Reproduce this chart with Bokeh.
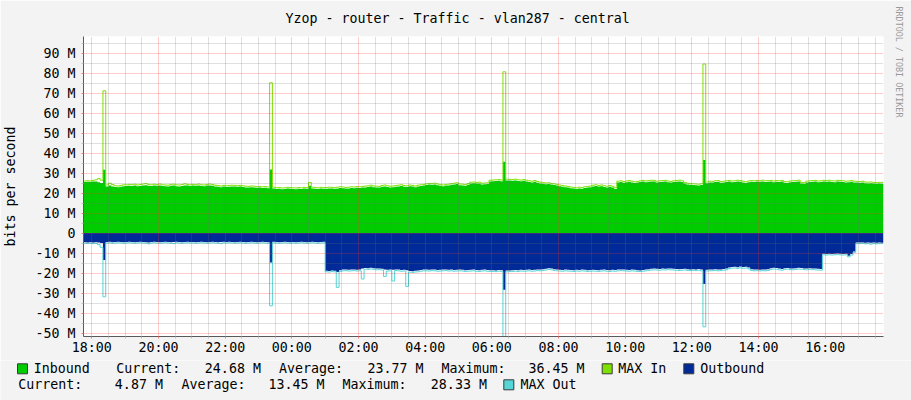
import numpy as np
from bokeh.plotting import figure
from bokeh.models import Range1d, FixedTicker, Title
from bokeh.core.properties import value
from bokeh.embed import file_html
from bokeh.resources import INLINE

# ---------------- data ----------------
TITLE = "Yzop - router - Traffic - vlan287 - central"
Y_LABEL = "bits per second"
WATERMARK = "RRDTOOL / TOBI OETIKER"

START_HOUR = -0.25          # 17:45, in hours relative to 18:00
STEP_HOURS = 5 / 60         # 5-minute samples

X_TICK_LABELS = ["18:00", "20:00", "22:00", "00:00", "02:00", "04:00",
                 "06:00", "08:00", "10:00", "12:00", "14:00", "16:00"]
Y_TICK_VALUES = [-50, -40, -30, -20, -10, 0, 10, 20, 30, 40, 50, 60, 70, 80, 90]
Y_UNIT = "M"

# Inbound average (Mbit/s), one value per 5 minutes from 17:45
IN_AVG = [
    25.5, 25.6, 25.5,
    25.7, 25.8, 25.4, 25.0, 31.6, 23.2, 23.8, 23.3, 23.0, 22.9, 23.1, 23.4,
    23.5, 23.6, 23.5, 23.7, 23.4, 23.5, 23.8, 23.9, 23.6, 23.5, 23.7, 23.6,
    23.8, 23.5, 23.4, 23.2, 23.6, 23.7, 23.4, 23.3, 23.5, 23.8, 23.7, 23.5,
    23.7, 23.6, 23.8, 23.5, 23.4, 23.7, 23.8, 23.6, 23.3, 23.1, 22.9, 23.2,
    23.0, 23.1, 23.3, 23.2, 23.1, 23.2, 23.0, 22.8, 22.7, 22.9, 22.8, 22.6,
    22.7, 22.5, 22.6, 22.4, 31.7, 22.2, 22.0, 22.1, 21.9, 22.0, 22.2, 22.1,
    22.0, 21.9, 22.1, 22.0, 22.2, 22.1, 23.6, 22.3, 22.1, 22.0, 22.2, 22.1,
    22.1, 22.3, 22.2, 22.1, 22.3, 22.5, 22.4, 22.2, 22.3, 22.5, 22.4, 22.6,
    22.5, 22.7, 22.8, 23.0, 23.2, 22.9, 22.8, 22.7, 23.1, 23.3, 23.0, 22.8,
    22.9, 23.1, 23.3, 23.5, 23.1, 23.0, 23.4, 23.2, 22.9, 23.3, 23.5, 23.7,
    24.0, 24.2, 24.1, 24.3, 23.9, 23.6, 23.4, 23.7, 23.8, 24.1, 24.3, 24.5,
    23.9, 23.8, 23.6, 24.1, 24.8, 24.9, 24.7, 24.8, 24.3, 24.4, 24.5, 25.8,
    25.9, 26.0, 26.1, 25.9, 35.6, 26.3, 26.2, 26.1, 26.3, 26.0, 25.9, 26.1,
    25.8, 25.5, 25.3, 25.6, 25.1, 24.8, 24.6, 24.4, 24.5, 24.2, 24.0, 23.7,
    23.4, 23.1, 22.9, 22.7, 22.4, 22.2, 22.0, 22.3, 22.1, 22.5, 22.7, 22.9,
    23.3, 23.5, 23.2, 23.4, 23.0, 22.8, 23.1, 22.8, 22.0, 25.3, 25.5, 25.1,
    25.4, 25.6, 25.3, 25.0, 25.2, 25.5, 25.7, 25.4, 25.6, 25.8, 25.7, 25.3,
    25.5, 25.6, 25.7, 25.4, 25.2, 25.5, 25.6, 25.8, 25.5, 24.7, 24.3, 24.1,
    24.0, 23.9, 23.8, 24.0, 36.45, 24.9, 25.3, 25.2, 25.5, 25.6, 25.1, 25.3,
    25.5, 25.7, 25.4, 25.5, 25.8, 25.6, 25.3, 25.0, 25.4, 25.6, 25.5, 25.7,
    25.6, 25.8, 25.5, 25.6, 25.7, 25.4, 25.6, 25.5, 25.7, 25.1, 25.0, 25.4,
    25.5, 25.6, 25.8, 24.7, 24.6, 25.3, 25.5, 25.6, 25.7, 25.4, 25.5, 25.7,
    25.6, 25.8, 25.5, 25.4, 25.7, 25.6, 25.5, 25.3, 25.4, 25.6, 25.3, 25.2,
    25.1, 25.3, 24.9, 24.8, 24.9, 24.7, 24.6, 24.7, 24.68,
]

IN_MAX = [
    26.0, 26.1, 26.0,
    26.3, 26.6, 27.2, 26.4, 71.1, 24.0, 24.9, 24.2, 23.6, 23.5, 23.8, 24.1,
    24.1, 24.3, 24.2, 24.4, 24.0, 24.2, 24.5, 24.7, 24.3, 24.1, 24.4, 24.2,
    24.5, 24.1, 24.0, 23.9, 24.3, 24.4, 24.1, 24.0, 24.2, 24.6, 24.3, 24.1,
    24.3, 24.2, 24.5, 24.1, 24.0, 24.3, 24.5, 24.2, 23.9, 23.7, 23.5, 23.8,
    23.6, 23.7, 23.9, 23.8, 23.7, 23.8, 23.6, 23.4, 23.3, 23.5, 23.4, 23.2,
    23.3, 23.1, 23.2, 23.0, 75.1, 22.9, 22.6, 22.7, 22.5, 22.6, 22.8, 22.7,
    22.6, 22.5, 22.7, 22.6, 22.8, 22.7, 25.3, 22.9, 22.7, 22.6, 22.8, 22.7,
    22.7, 22.9, 22.8, 22.7, 22.9, 23.1, 23.0, 22.8, 22.9, 23.1, 23.0, 23.2,
    23.1, 23.3, 23.4, 23.6, 23.9, 23.5, 23.4, 23.3, 23.8, 24.0, 23.6, 23.4,
    23.5, 23.7, 23.9, 24.1, 23.7, 23.6, 24.0, 23.8, 23.5, 23.9, 24.1, 24.3,
    24.6, 24.8, 24.7, 24.9, 24.5, 24.2, 24.0, 24.3, 24.4, 24.7, 24.9, 25.1,
    24.5, 24.4, 24.2, 24.7, 25.4, 25.5, 25.3, 25.4, 24.9, 25.0, 25.1, 26.4,
    26.5, 26.6, 26.7, 26.5, 80.6, 26.9, 26.8, 26.7, 26.9, 26.6, 26.5, 26.7,
    26.4, 26.1, 25.9, 26.2, 25.7, 25.4, 25.2, 25.0, 25.1, 24.8, 24.6, 24.3,
    24.0, 23.7, 23.5, 23.3, 23.0, 22.8, 22.6, 22.9, 22.7, 23.1, 23.3, 23.5,
    23.9, 24.1, 23.8, 24.0, 23.6, 23.4, 23.7, 23.4, 22.6, 25.9, 26.1, 25.7,
    26.0, 26.2, 25.9, 25.6, 25.8, 26.1, 26.3, 26.0, 26.2, 26.4, 26.3, 25.9,
    26.1, 26.2, 26.3, 26.0, 25.8, 26.1, 26.2, 26.4, 26.1, 25.3, 24.9, 24.7,
    24.6, 24.5, 24.4, 24.6, 84.5, 25.5, 25.9, 25.8, 26.1, 26.2, 25.7, 25.9,
    26.1, 26.3, 26.0, 26.1, 26.4, 26.2, 25.9, 25.6, 26.0, 26.2, 26.1, 26.3,
    26.2, 26.4, 26.1, 26.2, 26.3, 26.0, 26.2, 26.1, 26.3, 25.7, 25.6, 26.0,
    26.1, 26.2, 26.4, 25.3, 25.2, 25.9, 26.1, 26.2, 26.3, 26.0, 26.1, 26.3,
    26.2, 26.4, 26.1, 26.0, 26.3, 26.2, 26.1, 25.9, 26.0, 26.2, 25.9, 25.8,
    25.7, 25.9, 25.5, 25.4, 25.5, 25.3, 25.2, 25.3, 25.3,
]

# Outbound (Mbit/s, drawn below zero)
OUT_AVG = [
    4.6, 4.7, 4.6,
    4.7, 4.6, 4.7, 5.0, 13.5, 4.5, 4.4, 4.6, 4.5, 4.4, 4.5, 4.6,
    4.5, 4.4, 4.5, 4.6, 4.5, 4.4, 4.5, 4.6, 4.7, 4.5, 4.4, 4.5,
    4.6, 4.5, 4.4, 4.5, 4.6, 4.5, 4.4, 4.5, 4.6, 4.5, 4.4, 4.5,
    4.5, 4.6, 4.5, 4.4, 4.5, 4.6, 4.5, 4.4, 4.5, 4.6, 4.5, 4.4,
    4.5, 4.4, 4.5, 4.6, 4.5, 4.4, 4.5, 4.6, 4.5, 4.4, 4.5, 4.6,
    4.5, 4.4, 4.5, 4.6, 14.7, 4.4, 4.5, 4.6, 4.5, 4.4, 4.5, 4.6,
    4.5, 4.6, 4.5, 4.4, 4.5, 4.6, 4.5, 4.4, 4.5, 4.6, 4.5, 4.4,
    18.9, 19.0, 18.8, 18.9, 19.5, 18.6, 18.3, 18.2, 18.4, 18.3, 18.2, 18.4,
    18.3, 17.7, 17.5, 17.6, 17.4, 17.6, 17.8, 17.7, 17.9, 18.2, 18.4, 18.3,
    18.4, 18.2, 18.3, 18.5, 18.4, 18.6, 19.0, 19.1, 18.9, 18.8, 18.5, 18.3,
    18.3, 18.4, 18.2, 18.3, 18.5, 18.4, 18.3, 18.2, 18.4, 18.3, 18.5, 18.4,
    18.3, 18.4, 18.6, 18.5, 18.4, 18.3, 18.5, 18.6, 18.4, 18.3, 18.5, 18.6,
    18.6, 18.7, 18.5, 18.6, 28.33, 18.8, 18.7, 18.6, 18.5, 18.6, 18.4, 18.5,
    18.4, 18.3, 18.5, 18.4, 18.2, 18.3, 18.1, 17.9, 17.6, 17.8, 18.1, 18.3,
    18.4, 18.5, 18.3, 18.4, 18.5, 18.6, 18.4, 18.5, 18.3, 18.4, 18.6, 18.5,
    18.4, 18.5, 18.6, 18.4, 18.3, 18.5, 18.6, 18.4, 18.5, 18.3, 18.2, 18.3,
    18.4, 18.5, 18.3, 18.4, 18.6, 18.7, 18.5, 18.3, 18.1, 17.9, 17.8, 17.9,
    18.0, 17.8, 17.9, 17.7, 17.8, 17.9, 18.0, 18.1, 18.0, 17.9, 18.1, 18.2,
    18.1, 18.2, 18.0, 18.3, 25.5, 18.4, 18.3, 18.2, 18.1, 18.3, 18.2, 18.0,
    17.8, 17.2, 17.0, 16.9, 17.1, 16.8, 17.0, 16.9, 17.3, 18.1, 18.3, 18.2,
    18.4, 18.2, 18.3, 18.1, 17.6, 17.4, 17.5, 17.8, 18.0, 17.6, 17.5, 17.7,
    17.8, 17.6, 17.4, 17.5, 17.7, 17.8, 17.6, 17.7, 17.8, 17.9, 18.0, 10.4,
    10.5, 10.4, 10.5, 10.4, 10.3, 10.4, 10.5, 10.4, 11.4, 10.5, 9.2, 4.8,
    4.8, 4.7, 4.9, 4.8, 4.9, 4.8, 4.9, 4.8, 4.87,
]

OUT_MAX = [
    5.1, 5.2, 5.1,
    5.3, 5.2, 5.8, 7.2, 31.9, 5.0, 4.9, 5.1, 5.0, 4.9, 5.0, 5.1,
    5.0, 4.9, 5.0, 5.1, 5.0, 4.9, 5.0, 5.1, 5.4, 5.0, 4.9, 5.0,
    5.1, 5.0, 4.9, 5.0, 5.1, 5.3, 4.9, 5.0, 5.1, 5.0, 4.9, 5.0,
    5.0, 5.1, 5.0, 4.9, 5.0, 5.1, 5.0, 4.9, 5.0, 5.1, 5.3, 4.9,
    5.0, 4.9, 5.0, 5.1, 5.0, 4.9, 5.0, 5.1, 5.0, 4.9, 5.0, 5.1,
    5.0, 4.9, 5.0, 5.2, 36.4, 4.9, 5.0, 5.1, 5.0, 4.9, 5.0, 5.1,
    5.0, 5.1, 5.0, 4.9, 5.0, 5.1, 5.0, 4.9, 5.0, 5.1, 5.0, 4.9,
    19.4, 19.5, 19.3, 19.4, 27.2, 19.2, 18.9, 18.8, 19.0, 18.9, 18.8, 19.0,
    18.9, 23.0, 18.1, 18.2, 18.0, 18.2, 18.4, 18.3, 18.5, 21.7, 19.0, 18.9,
    24.0, 18.8, 18.9, 19.1, 19.0, 26.7, 19.6, 19.7, 19.5, 19.4, 19.1, 18.9,
    18.9, 19.0, 18.8, 18.9, 19.1, 19.0, 18.9, 18.8, 19.0, 18.9, 19.1, 19.0,
    18.9, 19.0, 19.2, 19.1, 19.0, 18.9, 19.1, 19.2, 19.0, 18.9, 19.1, 19.2,
    19.2, 19.3, 19.1, 19.2, 58.0, 19.4, 19.3, 19.2, 19.1, 19.2, 19.0, 19.1,
    19.0, 18.9, 19.1, 19.0, 18.8, 18.9, 18.7, 18.5, 18.2, 18.4, 18.7, 18.9,
    19.0, 19.1, 18.9, 19.0, 19.1, 19.2, 19.0, 19.1, 18.9, 19.0, 19.2, 19.1,
    19.0, 19.1, 19.2, 19.0, 18.9, 19.1, 19.2, 19.0, 19.1, 18.9, 18.8, 18.9,
    19.0, 19.1, 18.9, 19.0, 19.2, 19.3, 19.1, 18.9, 18.7, 18.5, 18.4, 18.5,
    18.6, 18.4, 18.5, 18.3, 18.4, 18.5, 18.6, 18.7, 18.6, 18.5, 18.7, 18.8,
    18.7, 18.8, 18.6, 18.9, 46.9, 19.0, 18.9, 18.8, 18.7, 18.9, 18.8, 18.6,
    18.4, 17.8, 17.6, 17.5, 17.7, 17.4, 17.6, 17.5, 17.9, 18.7, 18.9, 18.8,
    19.0, 18.8, 18.9, 18.7, 18.2, 18.0, 18.1, 18.4, 18.6, 18.2, 18.1, 18.3,
    18.4, 18.2, 18.0, 18.1, 18.3, 18.4, 18.2, 18.3, 18.4, 18.5, 18.6, 10.9,
    11.0, 10.9, 11.0, 10.9, 10.8, 10.9, 11.0, 10.9, 11.9, 11.0, 9.7, 5.3,
    5.3, 5.2, 5.4, 5.3, 5.6, 5.3, 5.4, 5.3, 5.3,
]

LEGEND_NAMES = ["Inbound", "MAX In", "Outbound", "MAX Out"]
STAT_NAMES = ["Current:", "Average:", "Maximum:"]
IN_STATS = [24.68, 23.77, 36.45]
OUT_STATS = [4.87, 13.45, 28.33]

# ---------------- style ----------------
C_IN = "#00CC00"
C_IN_MAX = "#7EE000"
C_OUT = "#002A97"
C_OUT_MAX = "#55D5D5"
C_BACK = "#F3F3F3"
C_AXIS = "#5A5A5A"
C_MGRID = "#FF3030"
C_GRID = "#707070"
FONT = "DejaVu Sans Mono"
FS = "13.3px"

MAIN_H = 360
p = figure(width=911, height=MAIN_H, frame_width=800, frame_height=300,
           min_border_left=81, min_border_right=30,
           min_border_top=36, min_border_bottom=MAIN_H - 336,
           x_range=Range1d(START_HOUR, START_HOUR + STEP_HOURS * len(IN_AVG)),
           y_range=Range1d(-51.75, 98.25),
           output_backend="svg", toolbar_location=None,
           background_fill_color="white", border_fill_color=C_BACK)
p.outline_line_color = None

# ---------------- data glyphs (stepped like rrdtool) ----------------
n = len(IN_AVG)
edges = START_HOUR + STEP_HOURS * np.arange(n + 1)
xs = np.repeat(edges, 2)[1:-1]


def stepped(v, sign=1.0):
    return sign * np.repeat(np.asarray(v, dtype=float), 2)


p.varea(x=xs, y1=np.zeros_like(xs), y2=stepped(IN_AVG), fill_color=C_IN)
p.line(x=xs, y=stepped(IN_MAX), line_color=C_IN_MAX, line_width=1)
p.varea(x=xs, y1=np.zeros_like(xs), y2=stepped(OUT_AVG, -1.0), fill_color=C_OUT)
p.line(x=xs, y=stepped(OUT_MAX, -1.0), line_color=C_OUT_MAX, line_width=1)

# ---------------- axes & grid ----------------
x_major = [2 * k for k in range(len(X_TICK_LABELS))]
x_minor = [k * 0.5 for k in range(1, 48) if k % 4 != 0]
xticker = FixedTicker(ticks=x_major, minor_ticks=x_minor)
y_minor = [v + 5 for v in Y_TICK_VALUES]
yticker = FixedTicker(ticks=Y_TICK_VALUES, minor_ticks=y_minor)

p.xaxis.ticker = xticker
p.yaxis.ticker = yticker
p.xgrid.ticker = xticker
p.ygrid.ticker = yticker
p.xaxis.major_label_overrides = {t: lab for t, lab in zip(x_major, X_TICK_LABELS)}
p.yaxis.major_label_overrides = {v: (f"{v} {Y_UNIT}" if v != 0 else "0") for v in Y_TICK_VALUES}

for ax in (p.xaxis[0], p.yaxis[0]):
    ax.axis_line_color = C_AXIS
    ax.axis_line_width = 1
    ax.major_tick_in = 0
    ax.major_tick_out = 2
    ax.minor_tick_in = 0
    ax.minor_tick_out = 2
    ax.major_tick_line_color = "#F08080"
    ax.minor_tick_line_color = "#C0C0C0"
    ax.major_label_text_font = FONT
    ax.major_label_text_font_size = FS
    ax.major_label_text_color = "black"
p.yaxis.major_label_standoff = 6
p.xaxis.major_label_standoff = 1

p.yaxis.axis_label = Y_LABEL
p.yaxis.axis_label_standoff = 14
p.yaxis.axis_label_text_font = FONT
p.yaxis.axis_label_text_font_size = FS
p.yaxis.axis_label_text_font_style = "normal"
p.yaxis.axis_label_text_color = "black"

for g in (p.xgrid[0], p.ygrid[0]):
    g.level = "guide"
    g.grid_line_color = C_MGRID
    g.grid_line_alpha = 0.5
    g.grid_line_dash = "1 1"
    g.grid_line_width = 1
    g.minor_grid_line_color = C_GRID
    g.minor_grid_line_alpha = 0.45
    g.minor_grid_line_dash = "1 1"
    g.minor_grid_line_width = 1

# title above the plot
p.title.text = TITLE
p.title.align = "left"
p.title.offset = 202
p.title.vertical_align = "top"
p.title.text_font = FONT
p.title.text_font_size = FS
p.title.text_font_style = "normal"
p.title.text_color = "black"
p.title.standoff = 18

# vertical watermark on the right
p.add_layout(Title(text=WATERMARK, align="left", offset=-30, standoff=21,
                   text_font=FONT, text_font_size="8.4px", text_font_style="normal",
                   text_color="#9A9A9A"), "right")

# ---------------- legend strip (page pixel coordinates) ----------------
LEG_TOP = MAIN_H
leg = figure(width=911, height=400 - LEG_TOP, min_border=0,
             x_range=Range1d(0, 911), y_range=Range1d(400, LEG_TOP),
             x_axis_location=None, y_axis_location=None,
             output_backend="svg", toolbar_location=None,
             background_fill_color=C_BACK, border_fill_color=C_BACK)
leg.outline_line_color = None
leg.grid.visible = False

L1, L2 = 368.3, 384.3
fmt = lambda v: f"{v:.2f} {Y_UNIT}"

box_x = [17, 601.7, 683.3, 503.3]
box_y = [L1, L1, L1, L2]
box_c = [C_IN, C_IN_MAX, C_OUT, C_OUT_MAX]
leg.quad(left=box_x, right=[b + 10 for b in box_x],
         top=[y - 5 for y in box_y], bottom=[y + 5 for y in box_y],
         fill_color=box_c, line_color="#3A3A3A", line_width=1)

left_x = [33.3, 617.7, 699.7, 520.0, 115.7, 278.5, 441.0, 17.8, 181.0, 342.0]
left_y = [L1, L1, L1, L2, L1, L1, L1, L2, L2, L2]
left_t = LEGEND_NAMES + STAT_NAMES + STAT_NAMES
leg.text(x=left_x, y=left_y, text=left_t, text_font=value(FONT),
         text_font_size=value(FS), text_color="black",
         text_align="left", text_baseline="middle")

right_x = [260.4, 423.0, 584.0, 162.4, 324.0, 486.4]
right_y = [L1, L1, L1, L2, L2, L2]
right_t = [fmt(v) for v in IN_STATS + OUT_STATS]
leg.text(x=right_x, y=right_y, text=right_t, text_font=value(FONT),
         text_font_size=value(FS), text_color="black",
         text_align="right", text_baseline="middle")

open("out.html", "w").write(file_html([p, leg], INLINE))
